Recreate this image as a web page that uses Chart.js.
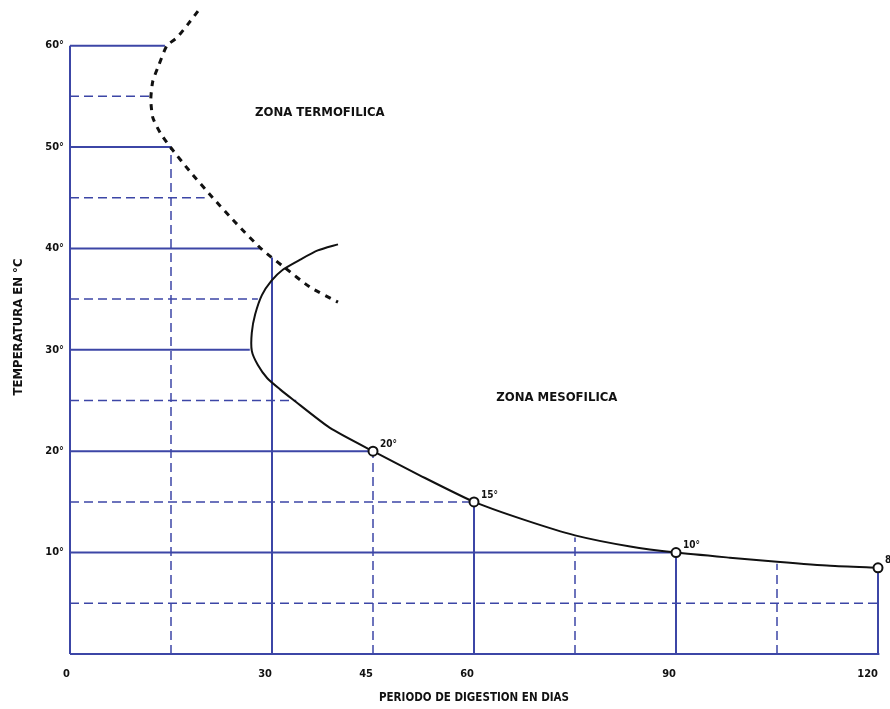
<!DOCTYPE html>
<html>
<head>
<meta charset="utf-8">
<script src="https://cdn.jsdelivr.net/npm/chart.js@4"></script>
<style>
  body { margin: 0; background: #fff; }
  #wrap { width: 890px; height: 709px; }
</style>
</head>
<body>
<div id="wrap"><canvas id="chart" width="890" height="709"></canvas></div>
<script>
// thermophilic curve (dashed), days vs °C
const termoX = [19.0, 17.5, 15.9, 14.4, 13.2, 12.3, 12.0, 12.3, 13.4, 14.9, 17.8, 21.2, 24.5, 28.5, 31.9, 35.6, 39.8];
const termoY = [63.4, 62.1, 60.8, 60.0, 58.1, 56.5, 54.7, 52.9, 51.4, 50.0, 47.6, 45.0, 42.6, 39.9, 38.1, 36.2, 34.7];

// mesophilic curve (solid)
const mesoX = [39.8, 36.8, 34.2, 31.6, 29.9, 28.5, 27.5, 27.0, 27.0, 27.9, 29.3, 31.2, 33.1, 38.6, 45, 52.0, 60, 67.6, 75, 83.2, 90, 98.0, 105, 112.9, 120];
const mesoY = [40.4, 39.8, 38.9, 37.9, 36.8, 35.4, 33.5, 31.7, 29.9, 28.5, 27.2, 26.1, 25.1, 22.3, 20, 17.6, 15, 13.2, 11.7, 10.6, 10, 9.5, 9.1, 8.7, 8.5];

// marked points
const markX = [45, 60, 90, 120];
const markY = [20, 15, 10, 8.5];
const markLabels = ['20°', '15°', '10°', '8°'];

// grid lines, each stops at the curve
const hLevels = [5, 10, 15, 20, 25, 30, 35, 40, 45, 50, 55, 60];
const hEnds   = [120, 90, 60, 45, 33.6, 26.7, 27.9, 28.2, 20, 15, 11.9, 14.1];
const vLevels = [15, 30, 45, 60, 75, 90, 105, 120];
const vEnds   = [50, 39.1, 20, 15, 11.5, 10, 8.9, 8.5];

const xTicks = [0, 30, 45, 60, 90, 120];
const yTicks = [10, 20, 30, 40, 50, 60];

const zoneText = ['ZONA TERMOFILICA', 'ZONA MESOFILICA'];
const zoneX = [37.1, 72.3];
const zoneY = [53.4, 25.3];

const BLUE = '#3c46a6';
const FONT = '"Liberation Sans Narrow", "DejaVu Sans Condensed", Arial, sans-serif';

const toPts = (xs, ys) => xs.map((v, i) => ({ x: v, y: ys[i] }));

const datasets = [
  {
    data: toPts(markX, markY), showLine: false,
    pointRadius: 4.5, pointBorderWidth: 2, pointBackgroundColor: '#fff', pointBorderColor: '#111', clip: false
  },
  {
    data: toPts(mesoX, mesoY), showLine: true, borderColor: '#111', borderWidth: 2,
    pointRadius: 0, tension: 0.2, clip: false
  },
  {
    data: toPts(termoX, termoY), showLine: true, borderColor: '#111', borderWidth: 3,
    borderDash: [6, 6], pointRadius: 0, tension: 0.2, clip: false
  },
  // axes
  { data: [{ x: 0, y: 0 }, { x: 0, y: 60 }], showLine: true, borderColor: BLUE, borderWidth: 2, pointRadius: 0, clip: false },
  { data: [{ x: 0, y: 0 }, { x: 120.2, y: 0 }], showLine: true, borderColor: BLUE, borderWidth: 2, pointRadius: 0, clip: false }
];

hLevels.forEach((lv, i) => {
  datasets.push({
    data: [{ x: 0, y: lv }, { x: hEnds[i], y: lv }], showLine: true,
    borderColor: BLUE, borderWidth: lv % 10 === 0 ? 2 : 1.5,
    borderDash: lv % 10 === 0 ? [] : [9, 5], pointRadius: 0, clip: false
  });
});
vLevels.forEach((lv, i) => {
  datasets.push({
    data: [{ x: lv, y: 0 }, { x: lv, y: vEnds[i] }], showLine: true,
    borderColor: BLUE, borderWidth: lv % 30 === 0 ? 2 : 1.5,
    borderDash: lv % 30 === 0 ? [] : [9, 5], pointRadius: 0, clip: false
  });
});

const textPlugin = {
  id: 'texts',
  afterDatasetsDraw(chart) {
    const { ctx, scales: { x, y } } = chart;
    ctx.save();
    ctx.fillStyle = '#111';
    ctx.textBaseline = 'middle';
    ctx.font = 'bold 13px ' + FONT;
    ctx.textAlign = 'center';
    zoneText.forEach((t, i) => {
      ctx.fillText(t, x.getPixelForValue(zoneX[i]), y.getPixelForValue(zoneY[i]));
    });
    ctx.font = 'bold 10px ' + FONT;
    ctx.textAlign = 'left';
    markLabels.forEach((t, i) => {
      ctx.fillText(t, x.getPixelForValue(markX[i]) + 7, y.getPixelForValue(markY[i]) - 7);
    });
    ctx.restore();
  }
};

// keep the plot area fixed: no extra room for overhanging tick labels
const noPad = s => { s.paddingLeft = 0; s.paddingRight = 0; s.paddingTop = 0; s.paddingBottom = 0; };

new Chart(document.getElementById('chart'), {
  type: 'scatter',
  data: { datasets },
  options: {
    responsive: false,
    animation: false,
    layout: { autoPadding: false, padding: { top: 0, right: 12, left: 0, bottom: 0 } },
    plugins: { legend: { display: false }, tooltip: { enabled: false } },
    scales: {
      x: {
        type: 'linear', min: 0, max: 120,
        grid: { display: false, drawTicks: false },
        border: { display: false },
        afterBuildTicks: s => { s.ticks = xTicks.map(v => ({ value: v })); },
        afterFit: s => { s.height = 55; noPad(s); },
        ticks: { color: '#111', padding: 14, align: 'end', maxRotation: 0, font: { family: FONT, size: 11, weight: 'bold' } },
        title: {
          display: true, text: 'PERIODO DE DIGESTION EN DIAS', color: '#111',
          padding: { top: 0, bottom: 4 }, font: { family: FONT, size: 11.5, weight: 'bold' }
        }
      },
      y: {
        type: 'linear', min: 0, max: 64.5,
        grid: { display: false, drawTicks: false },
        border: { display: false },
        afterBuildTicks: s => { s.ticks = yTicks.map(v => ({ value: v })); },
        afterFit: s => { s.width = 70; noPad(s); },
        ticks: { color: '#111', padding: 6, callback: v => v + '°', font: { family: FONT, size: 11, weight: 'bold' } },
        title: {
          display: true, text: 'TEMPERATURA EN °C', color: '#111',
          padding: { top: 11, bottom: 0 }, font: { family: FONT, size: 13, weight: 'bold' }
        }
      }
    }
  },
  plugins: [textPlugin]
});
</script>
</body>
</html>
